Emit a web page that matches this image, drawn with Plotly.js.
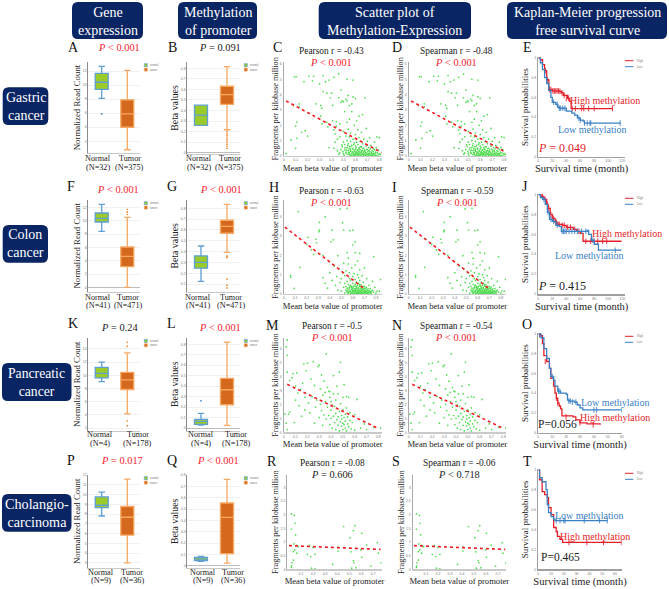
<!DOCTYPE html>
<html><head><meta charset="utf-8">
<script src="https://cdn.plot.ly/plotly-3.0.1.min.js"></script>
<style>html,body{margin:0;padding:0;background:#fff}</style></head>
<body><div id="chart" style="width:669px;height:589px"></div>
<script>
const headerTexts=["Gene<br>expression","Methylation<br>of promoter","Scatter plot of<br>Methylation-Expression","Kaplan-Meier progression<br>free survival curve"];
const cancerTexts=["Gastric<br>cancer","Colon<br>cancer","Pancreatic<br>cancer","Cholangio-<br>carcinoma"];
const groupLabels=["Normal","Tumor"];
const sampleN=[["(N=32)","(N=375)"],["(N=41)","(N=471)"],["(N=4)","(N=178)"],["(N=9)","(N=36)"]];

// box summaries: lower fence, q1, median, q3, upper fence
const exprGastricNormal=[8.1,9.4,10.4,11.67,12.67], exprGastricTumor=[0.8,4.0,5.9,7.9,12.1], exprGastricOut=[5.9];
const methGastricNormal=[0.258,0.258,0.356,0.45,0.45], methGastricTumor=[0.217,0.457,0.551,0.63,0.816], methGastricOut=[0.2,0.18,0.16,0.14,0.12,0.1,0.08,0.06,0.04];
const exprColonNormal=[8.4,9.8,10.35,11.15,12.45], exprColonTumor=[0,3.1,4.65,6.05,10.5], exprColonOut=[11.7,11.3,10.95];
const methColonNormal=[0.125,0.247,0.3,0.36,0.452], methColonTumor=[0.394,0.57,0.634,0.69,0.837], methColonOut=[0.36,0.35,0.345,0.145,0.09,0.065];
const exprPancNormal=[9.05,9.6,10.3,11.2,12], exprPancTumor=[4.15,7.85,9.3,10.45,13.4], exprPancOut=[15,14.4,3.1,2.35];
const methPancNormal=[0.029,0.035,0.064,0.083,0.14], methPancNormalOut=[0.26], methPancTumor=[0.025,0.223,0.366,0.475,0.82];
const exprCholNormal=[7.8,8.65,8.9,9.75,10.25], exprCholTumor=[3,5.84,7.67,8.77,11.57];
const methCholNormal=[0.04,0.047,0.06,0.076,0.085], methCholTumor=[0.026,0.108,0.428,0.554,0.762];

// scatter points [beta, FPKM]
const gastricPts=[[.02,.15],[.06,1.05],[.09,5.17],[.105,5.17],[.1,.5],[.11,1.15],[.1,1.95],[.11,2.2],[.13,3.2],[.13,3.4],[.08,3.3],[.17,4.85],[.15,1.55],[.18,1.65],[.2,1.3],[.21,5.2],[.24,4.9],[.25,5.2],[.27,3.4],[.3,4.7],[.31,2.6],[.32,2.1],[.33,5.25],[.32,3.1],[.31,3.3],[.33,4.2],[.35,4.85],[.36,4.1],[.36,2.2],[.37,1.9],[.38,.55],[.38,4.95],[.39,3.8],[.4,4.1],[.41,3.3],[.41,2.3],[.42,5.13],[.42,1.7],[.42,.5],[.43,.9],[.43,1.45],[.44,1.95],[.44,2.25],[.45,.35],[.45,1.1],[.46,5.35],[.46,3.8],[.47,.2],[.47,1.25],[.47,2.1],[.48,4.3],[.48,3.5],[.49,3.6],[.49,.6],[.5,.15],[.5,.9],[.5,1.6],[.5,3.55],[.51,.4],[.51,.75],[.51,2.9],[.52,3.7],[.52,1.3],[.52,.25],[.53,5],[.53,.55],[.53,1],[.53,2.2],[.53,3.6],[.54,.1],[.54,.35],[.54,.8],[.54,1.75],[.54,3.95],[.55,.2],[.55,.6],[.55,1.25],[.55,2.4],[.55,3.3],[.56,.05],[.56,.3],[.56,.45],[.56,.95],[.56,1.5],[.57,.15],[.57,.7],[.57,2.9],[.57,3.4],[.58,.05],[.58,.25],[.58,.5],[.58,1.1],[.58,4.95],[.58,3.85],[.59,.1],[.59,.35],[.59,.85],[.59,2],[.6,.02],[.6,.2],[.6,.45],[.6,.65],[.6,1.4],[.6,3.75],[.61,.12],[.61,.3],[.61,.9],[.61,2.3],[.62,.05],[.62,.2],[.62,.4],[.62,.75],[.62,1.7],[.63,.1],[.63,.3],[.63,.55],[.63,1.2],[.63,2.6],[.64,.02],[.64,.18],[.64,.42],[.64,.95],[.65,.08],[.65,.25],[.65,.6],[.65,1.55],[.66,.12],[.66,.35],[.66,.8],[.66,2.7],[.67,.05],[.67,.2],[.67,.5],[.67,1.1],[.68,.1],[.68,.3],[.68,3.8],[.69,.02],[.69,.18],[.69,.65],[.69,1.8],[.7,.08],[.7,.4],[.7,.95],[.71,.15],[.71,.55],[.72,.05],[.72,.28],[.72,1.2],[.73,.12],[.73,.7],[.74,.02],[.74,.35],[.75,.18],[.75,.5],[.76,.08],[.76,.9],[.77,.25],[.78,.05],[.78,1.25],[.79,.4],[.8,.15],[.8,1.2],[.81,.1]];
const gastricDense=[[.462,.12],[.478,.41],[.487,.72],[.496,.28],[.505,.06],[.513,.53],[.524,.17],[.527,.38],[.536,.68],[.543,.22],[.547,.47],[.552,.09],[.558,.36],[.563,.62],[.568,.03],[.572,.27],[.577,.44],[.583,.16],[.586,.75],[.592,.05],[.596,.31],[.603,.1],[.606,.54],[.612,.22],[.617,.38],[.623,.07],[.627,.16],[.633,.46],[.638,.25],[.642,.6],[.647,.04],[.652,.33],[.657,.15],[.662,.49],[.668,.09],[.673,.28],[.677,.38],[.683,.03],[.687,.21],[.693,.44],[.697,.13],[.703,.27],[.708,.06],[.713,.35],[.718,.17],[.724,.47],[.728,.08],[.733,.22],[.738,.03],[.743,.14],[.748,.3],[.753,.07],[.758,.42],[.764,.16],[.769,.04],[.774,.55],[.783,.2],[.795,.08]];
const colonPts=[[.127,4.26],[.49,4.4],[.55,4.43],[.36,4],[.31,3.7],[.51,3.69],[.31,3.3],[.305,3.22],[.42,3.3],[.52,3.31],[.575,3.28],[.6,3.3],[.21,2.93],[.28,2.83],[.285,2.65],[.43,2.8],[.41,2.7],[.62,2.7],[.6,2.53],[.2,2.57],[.26,2.05],[.24,2.28],[.34,2],[.47,1.98],[.55,2.14],[.56,1.85],[.62,2.14],[.66,2.1],[.78,1.93],[.14,1.38],[.06,.95],[.06,.86],[.09,.29],[.34,.85],[.36,.55],[.38,.3],[.4,1.1],[.42,.7],[.44,1.45],[.45,.45],[.46,.9],[.47,.2],[.48,1.3],[.49,.6],[.5,.15],[.5,.8],[.51,1.1],[.52,.35],[.52,1.6],[.53,.05],[.53,.55],[.53,.95],[.54,.2],[.54,.4],[.54,1.2],[.55,.1],[.55,.3],[.55,.65],[.56,.02],[.56,.22],[.56,.5],[.56,1.55],[.57,.12],[.57,.35],[.57,.8],[.57,1.1],[.58,.05],[.58,.18],[.58,.45],[.58,.7],[.59,.02],[.59,.25],[.59,.38],[.59,1.35],[.6,.08],[.6,.15],[.6,.3],[.6,.55],[.6,.9],[.61,.03],[.61,.2],[.61,.42],[.61,1.05],[.62,.05],[.62,.12],[.62,.28],[.62,.5],[.62,.75],[.62,1.5],[.63,.02],[.63,.18],[.63,.35],[.63,.62],[.64,.07],[.64,.22],[.64,.45],[.64,1],[.64,1.7],[.65,.03],[.65,.14],[.65,.3],[.65,.55],[.65,.85],[.66,.06],[.66,.2],[.66,.4],[.66,.7],[.66,1.25],[.67,.02],[.67,.12],[.67,.26],[.67,.48],[.68,.05],[.68,.17],[.68,.34],[.68,.95],[.69,.03],[.69,.1],[.69,.24],[.69,.6],[.7,.06],[.7,.16],[.7,.4],[.7,1.35],[.71,.02],[.71,.12],[.71,.3],[.72,.05],[.72,.22],[.72,.8],[.73,.08],[.73,.18],[.74,.03],[.74,.45],[.75,.12],[.75,.28],[.76,.05],[.77,.2],[.77,.65],[.78,.1],[.79,.35],[.8,.05],[.81,.15],[.83,.15],[.84,.75]];
const colonDense=[[.552,.16],[.563,.08],[.568,.27],[.575,.42],[.582,.11],[.586,.33],[.594,.06],[.597,.2],[.603,.37],[.607,.12],[.613,.02],[.616,.25],[.622,.17],[.626,.41],[.632,.09],[.634,.28],[.638,.03],[.643,.15],[.647,.34],[.652,.07],[.655,.21],[.658,.47],[.663,.11],[.666,.02],[.669,.31],[.673,.18],[.677,.08],[.682,.25],[.686,.39],[.691,.04],[.694,.14],[.698,.29],[.703,.09],[.707,.2],[.712,.05],[.716,.36],[.722,.13],[.726,.02],[.731,.27],[.737,.1],[.743,.17],[.752,.06],[.762,.14]];
const pancreasPts=[[.02,6.1],[.03,6.6],[.03,5.5],[.03,4.3],[.01,1.3],[.02,.65],[.03,.2],[.04,1.3],[.05,1.45],[.05,3.7],[.07,3.9],[.08,4.2],[.09,.7],[.1,3.3],[.1,2.3],[.11,4.25],[.12,2.8],[.13,1.9],[.14,3.05],[.15,1.15],[.16,3.5],[.17,4.9],[.18,2.5],[.18,1.6],[.19,4.4],[.2,4.95],[.21,2.1],[.22,1.4],[.23,3.8],[.24,2.55],[.25,5.05],[.26,.65],[.26,3.35],[.27,1.8],[.28,2.3],[.29,4.7],[.3,4.8],[.3,1.05],[.31,3.1],[.31,2],[.32,1.55],[.32,4.1],[.33,.5],[.33,2.65],[.34,3.65],[.34,1.25],[.35,2.2],[.35,2.85],[.36,5.6],[.36,.95],[.37,1.8],[.37,3.2],[.38,2.95],[.38,1.2],[.39,2.5],[.39,.55],[.39,2.9],[.4,1.6],[.4,1],[.4,2.2],[.41,1.95],[.41,.3],[.42,2.75],[.42,1.15],[.42,4.05],[.43,1.85],[.43,.7],[.44,2.3],[.44,1.35],[.44,.2],[.45,1.7],[.45,.9],[.45,3.3],[.46,2.75],[.46,.5],[.46,1.1],[.47,4.3],[.47,1.5],[.47,.1],[.48,5],[.48,.75],[.48,2.05],[.49,1.2],[.49,.45],[.49,.95],[.5,1.6],[.5,.65],[.5,2.5],[.5,.2],[.51,3.4],[.51,1.05],[.51,.55],[.52,.3],[.52,1.3],[.52,.8],[.53,1.75],[.53,.1],[.53,2.55],[.54,.6],[.54,1.1],[.55,.4],[.55,2.5],[.56,.85],[.56,1.4],[.57,.25],[.58,.7],[.6,1.25],[.6,.15],[.62,2.35],[.65,.3],[.68,.6],[.7,.2],[.76,.35],[.82,.3]];
const cholPts=[[.02,2.03],[.045,1.98],[.02,1.47],[.05,1.69],[.055,1.26],[.04,.93],[.047,.71],[.036,.65],[.036,.34],[.025,.24],[.022,.12],[.02,.07],[.064,.88],[.078,.83],[.064,.59],[.17,.88],[.197,.8],[.152,.55],[.18,.47],[.216,.55],[.188,.04],[.216,.02],[.363,.18],[.454,1.57],[.407,.81],[.407,.67],[.507,1.16],[.548,1.6],[.535,1.42],[.515,.64],[.535,.32],[.54,.24],[.52,.04],[.557,.06],[.604,1.32],[.596,.71],[.604,.44],[.645,.89],[.68,.12],[.734,.98],[.742,.59],[.765,.24]];
// regression line ends
const gastricFitX=[.02,.82], gastricFitY=[3.59,.22];
const colonFitX=[.01,.705], colonFitY=[3.46,.24];
const pancreasFitX=[.03,.8], pancreasFitY=[3.43,.27];
const cholFitX=[0,.76], cholFitY=[.87,.73];

// Kaplan-Meier steps
const kmEHighT=[0,3,6,9,12,15,20,30,33,36,42,45,47,106], kmEHighS=[1,.98,.93,.87,.78,.68,.665,.66,.645,.62,.59,.56,.487,.487];
const kmELowT=[0,3,6,9,12,15,18,20,25,28,30,40,48,52,56,60,64,66,118], kmELowS=[1,.95,.88,.8,.74,.67,.6,.55,.53,.5,.49,.46,.44,.42,.39,.37,.36,.34,.34];
const kmEHighCT=[10,13,16,18,21,23,25,27,29,31,34,37,40,43,48.6,53,62,65,72,80,106], kmEHighCS=[.87,.78,.68,.68,.665,.665,.665,.665,.665,.66,.645,.62,.59,.59,.487,.487,.487,.487,.487,.487,.487];
const kmELowCT=[22,27,30,32,35,38,58,60,66,70,74,75,117], kmELowCS=[.55,.53,.49,.49,.49,.49,.39,.37,.34,.34,.34,.34,.34];
const kmJHighT=[0,4,8,12,14,17,20,24,28,35,40,50,55,60,64,119], kmJHighS=[1,.98,.95,.9,.86,.8,.76,.72,.7,.69,.67,.65,.63,.61,.53,.53];
const kmJLowT=[0,3,6,10,13,16,20,25,30,33,50,60,70,72,76,80,86,119], kmJLowS=[1,.97,.95,.9,.82,.75,.73,.69,.68,.63,.63,.63,.64,.6,.54,.5,.44,.44];
const kmJHighCT=[6,10,13,15,18,22,26,30,34,37,42,46,52,58,68,75,80,85,92,98], kmJHighCS=[.98,.95,.9,.86,.8,.76,.72,.7,.69,.69,.67,.67,.65,.63,.53,.53,.53,.53,.53,.53];
const kmJLowCT=[8,14,18,22,27,34,36,38,40,44,48,52,56,62,68,78,110], kmJLowCS=[.95,.82,.75,.73,.69,.63,.63,.63,.63,.63,.63,.63,.63,.63,.63,.54,.44];
const kmOHighT=[0,1.5,3,4,6,8,9,11,12,13,14,15,16,17,25,27,30,35,44.5], kmOHighS=[1,.98,.9,.78,.72,.65,.55,.47,.4,.35,.3,.27,.24,.17,.16,.13,.1,.09,.08];
const kmOLowT=[0,2,4,6,8,9,11,12,14,16,20,21,22,26,28,30,32,60], kmOLowS=[1,.96,.85,.75,.65,.57,.53,.47,.42,.4,.39,.33,.32,.31,.28,.25,.23,.23];
const kmOHighCT=[1,5,13,14,20,30,39.5], kmOHighCS=[.99,.72,.35,.3,.16,.1,.08];
const kmOLowCT=[1,10,14.5,15.5,22,23,24.5,27,40,42,60], kmOLowCS=[.99,.57,.42,.42,.32,.32,.31,.31,.23,.23,.23];
const kmTHighT=[0,1,3,5,7,8,10,12,14,15,17,19,65], kmTHighS=[1,.9,.78,.75,.72,.62,.55,.42,.38,.33,.3,.27,.27];
const kmTLowT=[0,1,3,6,7,8,10,12,13,54], kmTLowS=[1,.92,.88,.8,.65,.57,.53,.5,.49,.49];
const kmTHighCT=[24,38,51,65], kmTHighCS=[.27,.27,.27,.27];
const kmTLowCT=[14,17,20,21,36,48,54], kmTLowCS=[.49,.49,.49,.49,.49,.49,.49];

const W=669,H=589,SERIF='"Liberation Serif","Times New Roman",serif';
const RED='#f5222d',BLUEKM='#3a80c4',REDKM='#e61e2a',DARK='#0a2563';
const X=p=>p/W,Y=p=>1-p/H;
const traces=[],annotations=[],shapes=[];
const layout={width:W,height:H,margin:{l:0,r:0,t:0,b:0},paper_bgcolor:'#fff',plot_bgcolor:'rgba(0,0,0,0)',showlegend:false,font:{family:SERIF},annotations,shapes};
let axisCount=0;
function note(text,x,y,size,color,angle){annotations.push({text,x:X(x),y:Y(y),xref:'paper',yref:'paper',xanchor:'center',yanchor:'middle',showarrow:false,font:{family:SERIF,size,color:color||'#222'},textangle:angle||0});}
function addAxes(rect,xa,ya){
  axisCount++;const s=axisCount===1?'':axisCount;
  layout['xaxis'+s]=Object.assign({domain:[X(rect[0]),X(rect[2])],anchor:'y'+s,zeroline:false,showgrid:false,fixedrange:true,tickfont:{size:3.5,color:'#777',family:'Liberation Sans'},ticks:'',ticklen:0},xa);
  layout['yaxis'+s]=Object.assign({domain:[Y(rect[3]),Y(rect[1])],anchor:'x'+s,zeroline:false,showgrid:false,fixedrange:true,tickfont:{size:3.5,color:'#777',family:'Liberation Sans'},ticks:'',ticklen:0},ya);
  return {x:'x'+s,y:'y'+s};
}
function roundRect(x0,y0,x1,y1,r){
  const P=(a,b)=>X(a)+','+Y(b);
  const path='M'+P(x0+r,y0)+' L'+P(x1-r,y0)+' Q'+P(x1,y0)+' '+P(x1,y0+r)+' L'+P(x1,y1-r)+' Q'+P(x1,y1)+' '+P(x1-r,y1)+' L'+P(x0+r,y1)+' Q'+P(x0,y1)+' '+P(x0,y1-r)+' L'+P(x0,y0+r)+' Q'+P(x0,y0)+' '+P(x0+r,y0)+' Z';
  shapes.push({type:'path',path,xref:'paper',yref:'paper',fillcolor:DARK,line:{width:0},layer:'below'});
}
function box(a,pos,v,isTumor,width,out){
  const fill=isTumor?'#d4691e':'#9acb2b',line=isTumor?'#f6a862':'#5f9fd3';
  traces.push({type:'box',xaxis:a.x,yaxis:a.y,x:[pos],lowerfence:[v[0]],q1:[v[1]],median:[v[2]],q3:[v[3]],upperfence:[v[4]],width,whiskerwidth:.5,fillcolor:fill,line:{color:line,width:1.3},boxpoints:false,hoverinfo:'skip'});
  if(out)traces.push({type:'scatter',mode:'markers',xaxis:a.x,yaxis:a.y,x:out.map(()=>pos),y:out,marker:{size:1.8,color:isTumor?'#ef8f3f':'#3f86c6'},hoverinfo:'skip'});
}
function boxPanel(px,py,letter,pText,pCol,title,lx,nVal,tVal,yRange,yTicks,nOut,tOut,labels,row){
  const unit=px[3]-px[2];
  const a=addAxes([px[0],py[0],px[1],py[1]],
    {range:[(px[0]-px[2])/unit,(px[1]-px[2])/unit],showline:true,linecolor:'#c8c8c8',linewidth:1.3,showticklabels:false,tickvals:[0,1],ticktext:groupLabels},
    {range:yRange,tickvals:yTicks,showline:true,linecolor:'#8a8a8a',linewidth:1,showgrid:true,gridcolor:'#f1f1f1',gridwidth:1,zeroline:true,zerolinecolor:'#bdbdbd',zerolinewidth:1,
     title:{text:title,font:{family:SERIF,size:title==='Beta values'?9.8:8.8,color:'#222'},standoff:0}});
  const w=13/unit;
  box(a,0,nVal,false,w,nOut);box(a,1,tVal,true,w,tOut);
  note(letter,lx,py[0]-14,14,'#111');
  note(pText,px[2]+(labels.px||17.5),labels.pY,10.4,pCol);
  note(groupLabels[0],labels.n,labels.y-.6,8.2);note(groupLabels[1],labels.t,labels.y-.6,8.2);
  note(sampleN[row][0],labels.n,labels.y+8,8.2);note(sampleN[row][1],labels.t,labels.y+8,8.2);
  const lxx=px[1]+4.3,ly=py[0]+1.7;
  shapes.push({type:'rect',xref:'paper',yref:'paper',x0:X(lxx),x1:X(lxx+3),y0:Y(ly+3),y1:Y(ly),fillcolor:'#9acb2b',line:{color:'#5f9fd3',width:.7}});
  shapes.push({type:'rect',xref:'paper',yref:'paper',x0:X(lxx),x1:X(lxx+3),y0:Y(ly+7.4),y1:Y(ly+4.4),fillcolor:'#d4691e',line:{color:'#f6a862',width:.7}});
  note('normal',lxx+10,ly+1.5,3,'#777');note('tumor',lxx+9.5,ly+6,3,'#777');
}
function scatterPanel(rect,xRange,yRange,xTicks,yTicks,pts,fitX,fitY,letter,lx,ly,t1,t1x,t1y,pt,pCol,ptY){
  const a=addAxes(rect,
    {range:xRange,tickvals:xTicks,ticktext:xTicks.map(String),showline:true,linecolor:'#c9c9c9',linewidth:1.2,
     title:{text:'Mean beta value of promoter',font:{family:SERIF,size:8.6,color:'#222'},standoff:3}},
    {range:yRange,tickvals:yTicks,showline:true,linecolor:'#a8a8a8',linewidth:1.2,
     title:{text:'Fragments per kilobase million',font:{family:SERIF,size:8.3,color:'#222'},standoff:0}});
  traces.push({type:'scatter',mode:'markers',xaxis:a.x,yaxis:a.y,x:pts.map(p=>p[0]),y:pts.map(p=>p[1]),marker:{size:1.7,color:'#4fdc4f'},hoverinfo:'skip'});
  traces.push({type:'scatter',mode:'lines',xaxis:a.x,yaxis:a.y,x:fitX,y:fitY,line:{color:'#f01c22',width:1.6,dash:'3px,3px'},hoverinfo:'skip'});
  note(letter,lx,ly,14,'#111');
  note(t1,t1x,t1y,9.4,'#222');
  note(pt,t1x,ptY,10.4,pCol);
}
function kmPanel(rect,xRange,xTicks,hi,lo,hic,loc,letter,lx,ly,hiNote,loNote,pNote,legY){
  const a=addAxes(rect,
    {range:xRange,tickvals:xTicks,showline:true,linecolor:'#a0a0a0',linewidth:1.5,
     title:{text:'Survival time (month)',font:{family:SERIF,size:10.5,color:'#222'},standoff:2}},
    {range:[0,1.005],tickvals:[0,.2,.4,.6,.8,1],showline:true,linecolor:'#a0a0a0',linewidth:1.5,
     title:{text:'Survival probabilities',font:{family:SERIF,size:9,color:'#222'},standoff:1}});
  [[hi,hic,REDKM],[lo,loc,BLUEKM]].forEach(([c,m,col])=>{
    traces.push({type:'scatter',mode:'lines',xaxis:a.x,yaxis:a.y,x:c[0],y:c[1],line:{color:col,width:1.3,shape:'hv'},hoverinfo:'skip'});
    traces.push({type:'scatter',mode:'markers',xaxis:a.x,yaxis:a.y,x:m[0],y:m[1],marker:{symbol:'line-ns',size:4,line:{width:.9,color:col}},hoverinfo:'skip'});
  });
  note(letter,lx,ly,14,'#111');
  note('High methylation',hiNote[0],hiNote[1],10,REDKM);
  note('Low methylation',loNote[0],loNote[1],10,BLUEKM);
  note(pNote[0],pNote[1],pNote[2],pNote[3],pNote[4]);
  shapes.push({type:'line',xref:'paper',yref:'paper',x0:X(625),x1:X(633.3),y0:Y(legY),y1:Y(legY),line:{color:REDKM,width:1}});
  shapes.push({type:'line',xref:'paper',yref:'paper',x0:X(625),x1:X(633.3),y0:Y(legY+6),y1:Y(legY+6),line:{color:BLUEKM,width:1}});
  note('High',640,legY,3,'#777');note('Low',639.5,legY+6,3,'#777');
}

// header and row boxes
[[72,143],[178,257],[318.7,471],[507,667]].forEach((b,i)=>{roundRect(b[0],2,b[1],39,6);note(headerTexts[i],(b[0]+b[1])/2,21,14,'#fff');});
[[2.7,48.3,87.3,125,14],[2.7,48,225,262.7,14],[2,71.5,363,401,13.7],[2,71.5,494,531.7,14.2]].forEach((b,i)=>{roundRect(b[0],b[2],b[1],b[3],6);note(cancerTexts[i],(b[0]+b[1])/2,(b[2]+b[3])/2,b[4],'#fff');});

const pLT='<i>P</i> &lt; 0.001';
const exprX=[88.3,140,101.7,127.3], methX=[187.3,240,201,227];
const tick2=[2,4,6,8,10,12], tick2z=[0,2,4,6,8,10,12], betaT=[0,.1,.2,.3,.4,.5,.6,.7,.8];
boxPanel(exprX,[62,153],'A',pLT,RED,'Normalized Read Count',73,exprGastricNormal,exprGastricTumor,[.34,13.28],tick2,exprGastricOut,null,{n:98,t:129.7,y:159.3,pY:48},0);
boxPanel(methX,[62,154],'B','<i>P</i> = 0.091','#222','Beta values',172,methGastricNormal,methGastricTumor,[-.013,.86],betaT,null,methGastricOut,{n:199,t:230,y:159.3,pY:48,px:19},0);
boxPanel(exprX,[200,291.7],'F',pLT,RED,'Normalized Read Count',71,exprColonNormal,exprColonTumor,[-.65,13.1],tick2z,null,exprColonOut,{n:97.7,t:128,y:297.7,pY:189,px:16.5},1);
boxPanel(methX,[200,291.7],'G',pLT,RED,'Beta values',172,methColonNormal,methColonTumor,[.03,.877],betaT.slice(1),null,methColonOut,{n:198,t:231,y:297.7,pY:189,px:20},1);
boxPanel(exprX,[337.7,430.7],'K','<i>P</i> = 0.24','#222','Normalized Read Count',73,exprPancNormal,exprPancTumor,[1.6,15.7],[2,4,6,8,10,12,14],null,exprPancOut,{n:100,t:137.7,y:435,pY:327},2);
boxPanel(methX,[337.7,430.7],'L',pLT,RED,'Beta values',171,methPancNormal,methPancTumor,[-.025,.863],betaT,methPancNormalOut,null,{n:201,t:236,y:435,pY:327,px:19},2);
boxPanel(exprX,[475,567.7],'P','<i>P</i> = 0.017',RED,'Normalized Read Count',71,exprCholNormal,exprCholTumor,[2.5,12],[3,4,5,6,7,8,9,10,11,12],null,null,{n:101,t:131.7,y:572.7,pY:460.7,px:20.3},3);
boxPanel(methX,[475,567.7],'Q',pLT,RED,'Beta values',172,methCholNormal,methCholTumor,[-.015,.8],betaT,null,null,{n:203,t:233,y:572.7,pY:460.7,px:17},3);

const t8=[0,.1,.2,.3,.4,.5,.6,.7,.8],t7=[.1,.2,.3,.4,.5,.6,.7];
const gastricAll=gastricPts.concat(gastricDense), colonAll=colonPts.concat(colonDense);
scatterPanel([283.7,61.7,381.7,156],[0,.82],[0,6.15],t8,[0,1,2,3,4,5,6],gastricAll,gastricFitX,gastricFitY,'C',277,48,'Pearson r = -0.43',331,51,pLT,RED,62);
scatterPanel([408.7,61.7,506,156],[0,.816],[0,6.15],t8,[0,1,2,3,4,5,6],gastricAll,gastricFitX,gastricFitY,'D',396.7,48,'Spearman r = -0.48',456,51,pLT,RED,62);
scatterPanel([283.7,200,381.7,294],[0,.85],[0,4.86],t8,[0,1,2,3,4],colonAll,colonFitX,colonFitY,'H',274,187,'Pearson r = -0.63',331,191,pLT,RED,202);
scatterPanel([408.7,200,506,294],[0,.845],[0,4.86],t8,[0,1,2,3,4],colonAll,colonFitX,colonFitY,'I',394,187,'Spearman r = -0.59',457,191,pLT,RED,202);
scatterPanel([283.7,337.7,381.7,432.3],[0,.828],[0,6.76],t8,[0,1,2,3,4,5,6],pancreasPts,pancreasFitX,pancreasFitY,'M',272,325,'Pearson r = -0.5',332,326,pLT,RED,337);
scatterPanel([408.7,337.7,506,432.3],[0,.822],[0,6.76],t8,[0,1,2,3,4,5,6],pancreasPts,pancreasFitX,pancreasFitY,'N',397,325,'Spearman r = -0.54',456,326,pLT,RED,337);
scatterPanel([287.3,475,381.7,569.3],[-.014,.77],[0,3.46],t7,[0,.5,1,1.5,2,2.5,3],cholPts,cholFitX,cholFitY,'R',272,461.7,'Pearson r = -0.08',332,463,'<i>P</i> = 0.606','#222',474);
scatterPanel([412.7,475,506,569.3],[-.011,.767],[0,3.46],t7,[0,.5,1,1.5,2,2.5,3],cholPts,cholFitX,cholFitY,'S',395.7,461.7,'Spearman r = -0.06',459,463,'<i>P</i> &lt; 0.718','#222',474);

const kmX=[0,20,40,60,80,100,120];
kmPanel([538.3,57.3,625,156.7],[0,124],kmX,[kmEHighT,kmEHighS],[kmELowT,kmELowS],[kmEHighCT,kmEHighCS],[kmELowCT,kmELowCS],'E',527,48,[605.3,101],[592.7,130],['<i>P</i> = 0.049',562,148,12,REDKM],60.7);
kmPanel([538.3,194,625,294],[0,124],kmX,[kmJHighT,kmJHighS],[kmJLowT,kmJLowS],[kmJHighCT,kmJHighCS],[kmJLowCT,kmJLowCS],'J',525,186,[626.7,234],[589,255.7],['<i>P</i> = 0.415',561.7,285.7,12,'#222'],198.3);
kmPanel([538.3,333.3,621.7,432.7],[0,60],[0,10,20,30,40,50,60],[kmOHighT,kmOHighS],[kmOLowT,kmOLowS],[kmOHighCT,kmOHighCS],[kmOLowCT,kmOLowCS],'O',527,324,[615,417.7],[615,402.3],['P=0.056',557,423.7,11.5,'#222'],336.3);
kmPanel([538.3,469.3,621.7,569.3],[0,65.3],[0,10,20,30,40,50,60],[kmTHighT,kmTHighS],[kmTLowT,kmTLowS],[kmTHighCT,kmTHighCS],[kmTLowCT,kmTLowCS],'T',527,461.7,[595,536.7],[589,515.3],['P=0.465',560,556.7,11.5,'#222'],473.3);

Plotly.newPlot('chart',traces,layout,{displayModeBar:false,staticPlot:true});
</script></body></html>
